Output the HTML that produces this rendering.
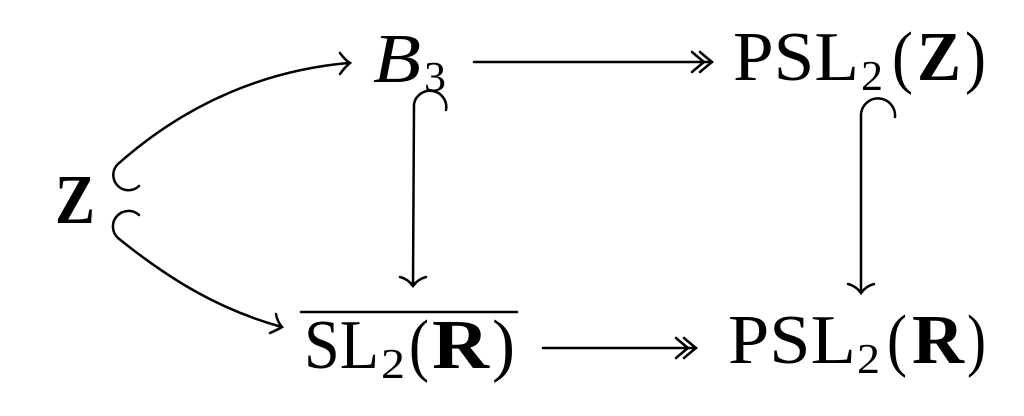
<!DOCTYPE html>
<html><head><style>html,body{margin:0;padding:0;background:#fff;width:1024px;height:416px;overflow:hidden}</style></head>
<body>
<svg width="1024" height="416" viewBox="0 0 1024 416" xmlns="http://www.w3.org/2000/svg">
<g font-family="Liberation Serif, serif" font-size="70" fill="#000">
<text x="55" y="223" font-weight="bold" textLength="40" lengthAdjust="spacingAndGlyphs">Z</text>
<text x="373" y="82" font-style="italic" textLength="48" lengthAdjust="spacingAndGlyphs">B</text>
<text x="424" y="91" font-size="42" textLength="22" lengthAdjust="spacingAndGlyphs">3</text>
<text x="733" y="80" textLength="126" lengthAdjust="spacingAndGlyphs">PSL</text>
<text x="861" y="90" font-size="42" textLength="22" lengthAdjust="spacingAndGlyphs">2</text>
<text x="892" y="80" textLength="21" lengthAdjust="spacingAndGlyphs">(</text>
<text x="917" y="80" font-weight="bold" textLength="44" lengthAdjust="spacingAndGlyphs">Z</text>
<text x="965" y="80" textLength="21" lengthAdjust="spacingAndGlyphs">)</text>

<text x="304" y="368" textLength="75" lengthAdjust="spacingAndGlyphs">SL</text>
<text x="381" y="378" font-size="42" textLength="24" lengthAdjust="spacingAndGlyphs">2</text>
<text x="409" y="368" textLength="20" lengthAdjust="spacingAndGlyphs">(</text>
<text x="432" y="368" font-weight="bold" textLength="57" lengthAdjust="spacingAndGlyphs">R</text>
<text x="492" y="368" textLength="23" lengthAdjust="spacingAndGlyphs">)</text>

<text x="728" y="363" textLength="128" lengthAdjust="spacingAndGlyphs">PSL</text>
<text x="857" y="373" font-size="42" textLength="23" lengthAdjust="spacingAndGlyphs">2</text>
<text x="887" y="363" textLength="20" lengthAdjust="spacingAndGlyphs">(</text>
<text x="912" y="363" font-weight="bold" textLength="52" lengthAdjust="spacingAndGlyphs">R</text>
<text x="967" y="363" textLength="19" lengthAdjust="spacingAndGlyphs">)</text>
</g>
<g fill="none" stroke="#000" stroke-width="2.5" stroke-linecap="round">
<line x1="301" y1="312" x2="517" y2="312"/>
<path d="M139 186 A12 12 0 0 1 118 164 C190 100 270 70 348 63"/>
<path d="M340 53 Q345 60 350 63 Q345 67 340 74"/>
<path d="M139 215 A12 12 0 0 0 118 238 C170 280 220 310 282 327"/>
<path d="M270 333 Q277 330 282 327 Q277 321 276 314"/>
<path d="M446 110 A16 16 0 0 0 414 104 L413 285"/>
<path d="M400 277 Q408 279 413 286 Q418 279 426 277"/>
<path d="M895 117 A17 17 0 0 0 861 114 L861 292"/>
<path d="M848 284 Q856 286 861 293 Q866 286 874 284"/>
<line x1="474" y1="62" x2="712" y2="62"/>
<path d="M700 52 Q707 58 712 62 Q707 66 700 72"/>
<path d="M692 52 Q699 58 704 62 Q699 66 692 72"/>
<line x1="543" y1="348" x2="696" y2="348"/>
<path d="M684 338 Q691 344 696 348 Q691 352 684 358"/>
<path d="M676 338 Q683 344 688 348 Q683 352 676 358"/>
</g>
</svg>
</body></html>
